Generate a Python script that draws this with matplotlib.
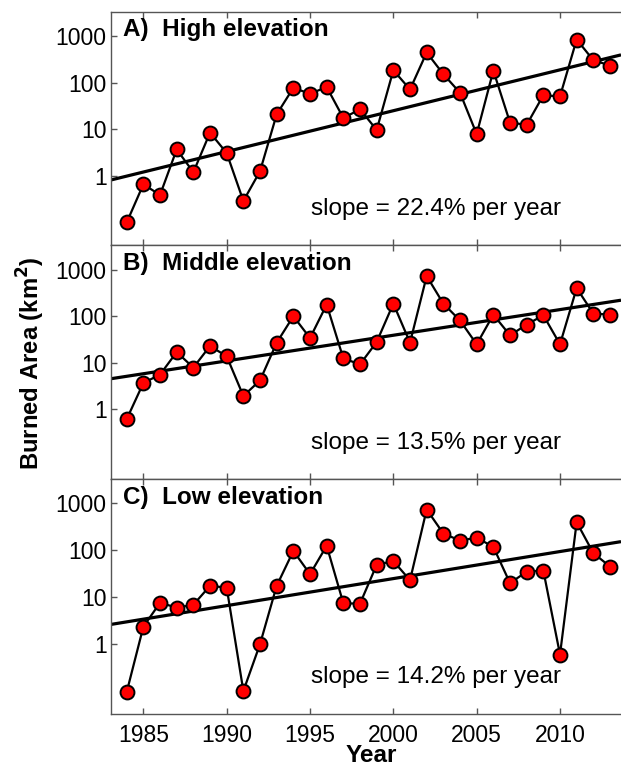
import numpy as np
import matplotlib
matplotlib.use("Agg")
import matplotlib.pyplot as plt
from matplotlib.ticker import FixedLocator, NullLocator

plt.rcParams['font.family'] = ['Liberation Sans', 'DejaVu Sans']

years = np.arange(1984, 2014)

high = [0.10, 0.66, 0.39, 3.7, 1.2, 8.5, 3.1, 0.29, 1.26, 21, 78, 58, 81, 17.5, 27,
        9.7, 186, 72, 447, 153, 61, 7.9, 183, 14, 12.5, 54, 51, 850, 305, 235]
middle = [0.62, 3.7, 5.6, 17, 7.9, 23, 13.8, 1.95, 4.2, 27, 100, 34, 178, 12.4, 9.3,
          28, 186, 27, 725, 186, 81, 25, 108, 39, 66, 105, 25, 400, 114, 108]
low = [0.095, 2.35, 7.6, 6.0, 6.9, 17.5, 16, 0.10, 1.0, 17.5, 97, 31, 125, 7.4, 7.3,
       49, 59, 23, 740, 228, 161, 186, 118, 20, 35, 37, 0.60, 397, 87, 45]

panel_titles = ["A)  High elevation", "B)  Middle elevation", "C)  Low elevation"]
slope_pct = [22.4, 13.5, 14.2]
trend_at_1984 = [0.99, 5.15, 2.98]
series = [high, middle, low]

ytick_vals = [1, 10, 100, 1000]
ytick_labels = ["1", "10", "100", "1000"]
xtick_vals = [1985, 1990, 1995, 2000, 2005, 2010]

W, H = 621, 769
fig = plt.figure(figsize=(W / 100, H / 100), dpi=100)

left = 110.7 / W
width = (W - 110.7) / W
tops = [12, 245.3, 479]
bots = [245.3, 479, 714]
xlim = (1983.04, 2013.66)
ylim = (10 ** -1.49, 10 ** 3.52)
spine_col = "#555555"
fs_tick = 16.5
fs_text = 17.5

for i in range(3):
    b = 1 - bots[i] / H
    h = (bots[i] - tops[i]) / H
    ax = fig.add_axes([left, b, width, h])
    ax.set_yscale('log')
    xl = np.array(xlim)
    trend = trend_at_1984[i] * (1 + slope_pct[i] / 100) ** (xl - 1984)
    ax.plot(xl, trend, color='black', lw=2.3, zorder=2, solid_capstyle='butt')
    ax.plot(years, series[i], color='black', lw=1.6, marker='o', ms=10,
            mfc='#ff0000', mec='black', mew=1.4, zorder=3)
    ax.set_xlim(*xlim)
    ax.set_ylim(*ylim)
    ax.yaxis.set_major_locator(FixedLocator(ytick_vals))
    ax.yaxis.set_minor_locator(NullLocator())
    ax.set_yticklabels(ytick_labels)
    ax.set_xticks(xtick_vals)
    ax.tick_params(axis='both', which='major', direction='in', length=4,
                   width=1.0, color=spine_col, labelsize=fs_tick, top=True, right=False)
    ax.tick_params(axis='y', pad=3)
    ax.tick_params(axis='x', pad=7)
    if i < 2:
        ax.set_xticklabels([])
    for s in ['left', 'top', 'bottom']:
        ax.spines[s].set_color(spine_col)
        ax.spines[s].set_linewidth(1.0)
    ax.spines['right'].set_visible(False)
    ax.text(0.025, 0.895, panel_titles[i], transform=ax.transAxes,
            fontsize=fs_text, fontweight='bold', va='baseline', ha='left')
    ax.text(0.392, 0.13, f"slope = {slope_pct[i]}% per year", transform=ax.transAxes,
            fontsize=fs_text, va='baseline', ha='left')

fig.text(31 / W, 1 - 363 / H, "Burned Area (km$^\\mathbf{2}$)", rotation=90,
         fontsize=17.2, fontweight='bold', ha='center', va='center')
fig.text(371 / W, 1.5 / H, "Year", fontsize=17.5,
         fontweight='bold', ha='center', va='bottom')

fig.savefig("out.png", dpi=100)
